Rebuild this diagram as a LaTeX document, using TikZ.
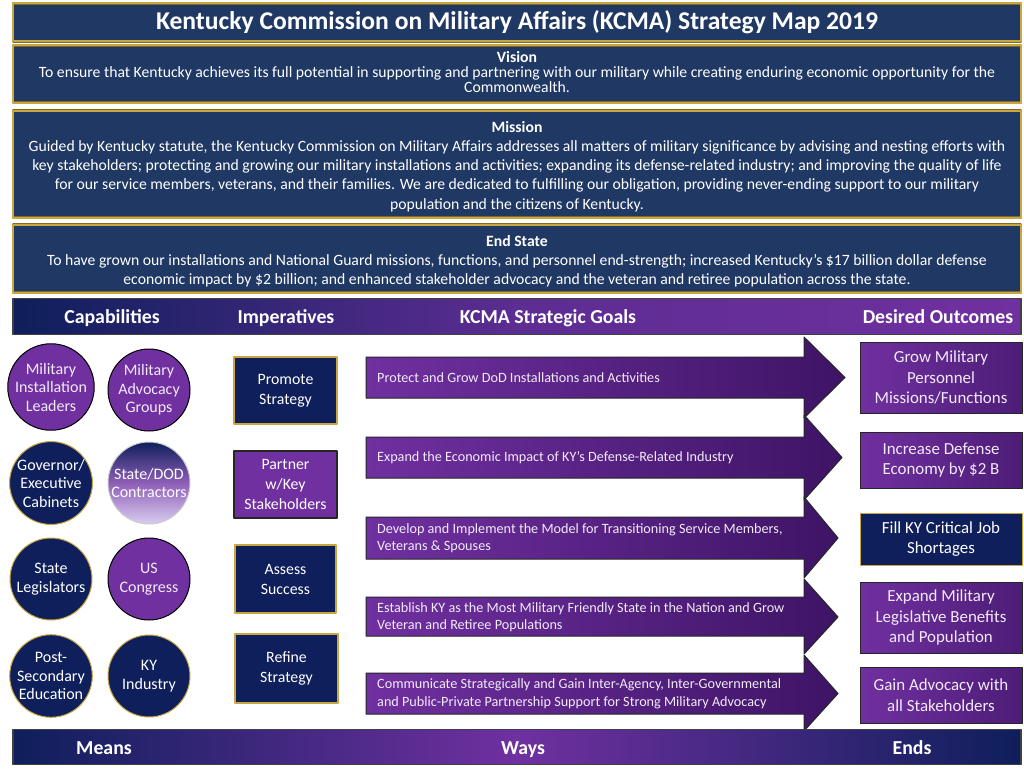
\documentclass[tikz,border=0pt]{standalone}
\usepackage{fontspec}
\setmainfont{Carlito}
\usetikzlibrary{positioning}
\definecolor{navyKY}{HTML}{1F3864}
\definecolor{navyB}{HTML}{0E1F5B}
\definecolor{purpleKY}{HTML}{7030A0}
\definecolor{purpleDk}{HTML}{3E1466}
\definecolor{goldKY}{HTML}{C9A640}
\definecolor{goldDk}{HTML}{7F6A2A}
\definecolor{lavKY}{HTML}{F2EAF8}
\definecolor{lilacKY}{HTML}{D8CCF0}
\begin{document}
\begin{tikzpicture}[x=1pt,y=-1pt,line join=round,
			declare function={xGb = 366; xGh = 804;},
			topbox/.style={draw=goldDk,double=goldKY,double distance=2pt,fill=navyKY,text=white,align=center,inner sep=0pt,minimum width=1008,font=\fontsize{15.7}{19.2}\selectfont},
			bar/.style={draw=black!75,line width=1.6pt,minimum width=1008,inner sep=0pt},
			headtxt/.style={text=white,anchor=base,font=\fontsize{19.8}{22}\selectfont\bfseries},
			capP/.style={circle,draw=black,line width=1pt,fill=purpleKY,text=lavKY,minimum size=82,inner sep=0pt,align=center,font=\fontsize{16}{18.5}\selectfont},
			capN/.style={capP,draw=goldKY,fill=navyB,text=white},
			impN/.style={draw=goldKY,line width=1.3pt,fill=navyB,text=white,minimum width=103,minimum height=67,inner sep=0pt,align=center,font=\fontsize{15.8}{20}\selectfont},
			impP/.style={impN,draw=black!85,fill=purpleKY},
			goal/.style={draw=black!85,line width=1pt,left color=purpleKY,right color=purpleDk},
			goaltxt/.style={text=lavKY,anchor=west,align=left,inner sep=0pt,font=\fontsize{14.2}{17.5}\selectfont},
			outP/.style={draw=black!85,line width=1pt,left color=purpleKY,right color=purpleDk!70!purpleKY,text=lavKY,minimum width=162,inner sep=0pt,align=center,font=\fontsize{16.9}{20.5}\selectfont},
			outN/.style={draw=goldKY,line width=1pt,fill=navyB,text=white,minimum width=162,inner sep=0pt,align=center,font=\fontsize{16.9}{20.5}\selectfont}]
	\useasboundingbox (0,0) rectangle (1024,768);
	%% Title, Vision, Mission, End State
	\node[topbox,minimum height=38,font=\fontsize{25.6}{28}\selectfont\bfseries] (title) at (517,22.5) {Kentucky Commission on Military Affairs (KCMA) Strategy Map 2019};
	\node[topbox,minimum height=57,font=\fontsize{15.7}{15}\selectfont] (vision) at (517,74) {\textbf{Vision}\\To ensure that Kentucky achieves its full potential in supporting and partnering with our military while creating enduring economic opportunity for the\\Commonwealth.\rule[-4pt]{0pt}{1pt}};
	\node[topbox,minimum height=107] (mission) at (517,164) {\rule{0pt}{16pt}\textbf{Mission}\\Guided by Kentucky statute, the Kentucky Commission on Military Affairs addresses all matters of military significance by advising and nesting efforts with\\key stakeholders; protecting and growing our military installations and activities; expanding its defense-related industry; and improving the quality of life\\for our service members, veterans, and their families. We are dedicated to fulfilling our obligation, providing never-ending support to our military\\population and the citizens of Kentucky.};
	\node[topbox,minimum height=68] (endstate) at (517,258.5) {\rule{0pt}{16pt}\textbf{End State}\\To have grown our installations and National Guard missions, functions, and personnel end-strength; increased Kentucky's \$17 billion dollar defense\\economic impact by \$2 billion; and enhanced stakeholder advocacy and the veteran and retiree population across the state.};
	%% Header bar
	\node[bar,minimum height=36,left color=navyB,right color=purpleKY,middle color=purpleKY!80!navyB] (header) at (517,316.5) {};
	\node[headtxt] (hCap) at (112,323) {Capabilities};
	\node[headtxt] (hImp) at (286,323) {Imperatives};
	\node[headtxt] (hGoal) at (548,323) {KCMA Strategic Goals};
	\node[headtxt] (hOut) at (938,323) {Desired Outcomes};
	%% Capabilities
	\node[capP] (milInst) at (51,387) {Military\\Installation\\Leaders};
	\node[capP] (milAdv) at (149,390) {Military\\Advocacy\\Groups};
	\node[capN] (govExec) at (51,483) {Governor/\\Executive\\Cabinets};
	\node[capP,draw=black!20,top color=navyB,bottom color=lilacKY,middle color=purpleKY!70!lilacKY,text=white] (stateDod) at (149,483) {State/DOD\\Contractors};
	\node[capN] (stateLeg) at (51,579) {State\\Legislators};
	\node[capP] (usCong) at (149,579) {US\\Congress};
	\node[capN] (postSec) at (51,676) {Post-\\Secondary\\Education};
	\node[capN] (kyInd) at (149,676) {KY\\Industry};
	%% Imperatives
	\node[impN] (promote) at (285.5,390.5) {Promote\\Strategy};
	\node[impP] (partner) at (285.5,484.5) {Partner\\w/Key\\Stakeholders};
	\node[impN,minimum width=101,minimum height=68] (assess) at (285.5,579) {Assess\\Success};
	\node[impN,minimum height=69] (refine) at (286.5,668.5) {Refine\\Strategy};
	%% Strategic goals (arrows)
	\path[goal] (xGb,357) -- (xGh,357) -- (xGh,337) -- (845,377.5) -- (xGh,418) -- (xGh,398) -- (xGb,398) -- cycle;
	\node[goaltxt] (goalA) at (377,377.5) {Protect and Grow DoD Installations and Activities};
	\path[goal] (xGb,437) -- (xGh,437) -- (xGh,415) -- (842,457.5) -- (xGh,500) -- (xGh,478) -- (xGb,478) -- cycle;
	\node[goaltxt] (goalB) at (377,457.5) {Expand the Economic Impact of KY's Defense-Related Industry};
	\path[goal] (xGb,517) -- (xGh,517) -- (xGh,497) -- (838,538) -- (xGh,578) -- (xGh,559) -- (xGb,559) -- cycle;
	\node[goaltxt] (goalC) at (377,538) {Develop and Implement the Model for Transitioning Service Members,\\Veterans \& Spouses};
	\path[goal] (xGb,597) -- (xGh,597) -- (xGh,579) -- (838,617) -- (xGh,654) -- (xGh,636) -- (xGb,636) -- cycle;
	\node[goaltxt] (goalD) at (377,617) {Establish KY as the Most Military Friendly State in the Nation and Grow\\Veteran and Retiree Populations};
	\path[goal] (xGb,673) -- (xGh,673) -- (xGh,655) -- (838,693.5) -- (xGh,731) -- (xGh,714) -- (xGb,714) -- cycle;
	\node[goaltxt] (goalE) at (377,694) {Communicate Strategically and Gain Inter-Agency, Inter-Governmental\\and Public-Private Partnership Support for Strong Military Advocacy};
	%% Desired outcomes
	\node[outP,minimum height=71] (outA) at (941,377.5) {Grow Military\\Personnel\\Missions/Functions};
	\node[outP,minimum height=56] (outB) at (941,460) {Increase Defense\\Economy by \$2 B};
	\node[outN,minimum height=52] (outC) at (941,539) {Fill KY Critical Job\\Shortages};
	\node[outP,minimum height=71] (outD) at (941,617.5) {Expand Military\\Legislative Benefits\\and Population};
	\node[outP,minimum height=56] (outE) at (941,695) {Gain Advocacy with\\all Stakeholders};
	%% Bottom bar
	\node[bar,minimum height=35,left color=navyB,right color=navyB,middle color=purpleKY] (footer) at (517,747) {};
	\node[headtxt] (fMeans) at (104,754) {Means};
	\node[headtxt] (fWays) at (523,754) {Ways};
	\node[headtxt] (fEnds) at (912,754) {Ends};
\end{tikzpicture}
\end{document}
